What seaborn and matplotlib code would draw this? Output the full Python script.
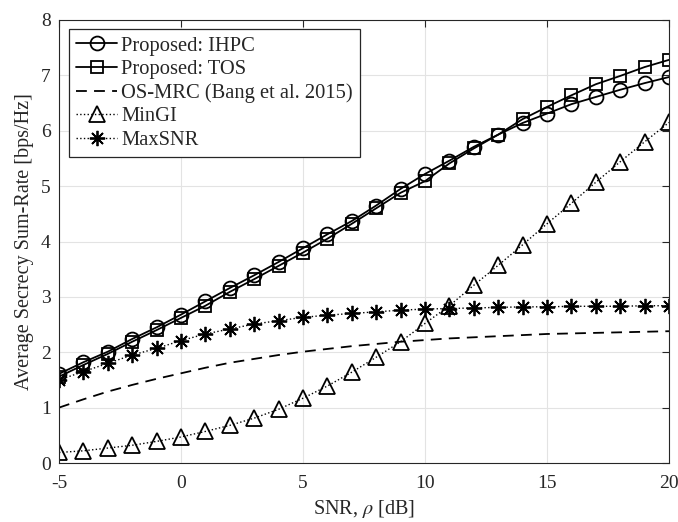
import numpy as np
import pandas as pd
import matplotlib
matplotlib.use("Agg")
import matplotlib.pyplot as plt
import seaborn as sns

snr = list(range(-5, 21))

ihpc = [1.61, 1.82, 2.01, 2.24, 2.45, 2.68, 2.92, 3.16, 3.39, 3.63, 3.88, 4.13, 4.37, 4.65, 4.95, 5.22,
        5.46, 5.71, 5.93, 6.14, 6.31, 6.48, 6.61, 6.74, 6.86, 6.97]
tos = [1.56, 1.77, 1.97, 2.19, 2.40, 2.62, 2.84, 3.09, 3.32, 3.56, 3.80, 4.05, 4.32, 4.60, 4.88, 5.09,
       5.41, 5.68, 5.93, 6.21, 6.43, 6.64, 6.84, 6.99, 7.15, 7.28]
osmrc = [1.00, 1.15, 1.29, 1.41, 1.52, 1.62, 1.72, 1.81, 1.88, 1.95, 2.01, 2.06, 2.11, 2.15, 2.19, 2.22,
         2.25, 2.27, 2.29, 2.31, 2.33, 2.34, 2.35, 2.36, 2.37, 2.38]
mingi = [0.19, 0.22, 0.27, 0.32, 0.39, 0.47, 0.57, 0.68, 0.81, 0.97, 1.17, 1.39, 1.64, 1.91, 2.19, 2.52,
         2.84, 3.21, 3.57, 3.94, 4.32, 4.69, 5.07, 5.44, 5.80, 6.15]
maxsnr = [1.50, 1.65, 1.80, 1.95, 2.07, 2.21, 2.33, 2.42, 2.51, 2.57, 2.63, 2.67, 2.70, 2.73, 2.76, 2.78,
          2.79, 2.80, 2.81, 2.82, 2.82, 2.83, 2.83, 2.83, 2.84, 2.84]

labels = ["Proposed: IHPC", "Proposed: TOS", "OS-MRC (Bang et al. 2015)", "MinGI", "MaxSNR"]
xticks = [-5, 0, 5, 10, 15, 20]
yticks = [0, 1, 2, 3, 4, 5, 6, 7, 8]

sns.set_style("white")
plt.rcParams["font.family"] = ["Liberation Serif", "DejaVu Serif"]
plt.rcParams["mathtext.fontset"] = "stix"

fig = plt.figure(figsize=(6.78, 5.22), dpi=100)
ax = fig.add_axes([59 / 678, (522 - 463) / 522, 610 / 678, 443 / 522])

df = pd.DataFrame({"snr": snr, "ihpc": ihpc, "tos": tos, "osmrc": osmrc, "mingi": mingi, "maxsnr": maxsnr})

common = dict(color="k", markeredgecolor="k", markerfacecolor="none", markeredgewidth=1.3)
sns.lineplot(data=df, x="snr", y="ihpc", ax=ax, marker="o", markersize=10, lw=1.3, label=labels[0], **common)
sns.lineplot(data=df, x="snr", y="tos", ax=ax, marker="s", markersize=9, lw=1.3, label=labels[1], **common)
sns.lineplot(data=df, x="snr", y="osmrc", ax=ax, lw=1.3, label=labels[2], color="k", dashes=False,
             linestyle=(0, (6, 4)))
sns.lineplot(data=df, x="snr", y="mingi", ax=ax, marker="^", markersize=11, lw=1.0, linestyle=":",
             label=labels[3], **common)
sns.lineplot(data=df, x="snr", y="maxsnr", ax=ax, marker=(8, 2, 0), markersize=11, lw=1.0, linestyle=":",
             label=labels[4], **common)

ax.set_xlim(-5, 20)
ax.set_ylim(0, 8)
ax.set_xticks(xticks)
ax.set_xticklabels([str(t) for t in xticks])
ax.set_yticks(yticks)
ax.grid(True, color="#e3e3e3", lw=0.8)
ax.set_axisbelow(True)
for s in ax.spines.values():
    s.set_visible(True)
    s.set_color("#262626")
    s.set_linewidth(0.8)
ax.tick_params(direction="in", length=5, width=0.8, top=True, right=True, labelsize=14,
               colors="#262626")
ax.tick_params(axis="x", pad=9)
ax.tick_params(axis="y", pad=6)
ax.set_xlabel(r"SNR, $\rho$ [dB]", fontsize=14.5, color="#262626", labelpad=4)
ax.set_ylabel("Average Secrecy Sum-Rate [bps/Hz]", fontsize=14.5, color="#262626", labelpad=5)

leg = ax.legend(loc="upper left", bbox_to_anchor=(10 / 610, 1 - 9 / 443), fontsize=14.8,
                frameon=True, fancybox=False, edgecolor="#262626", framealpha=1,
                handlelength=2.0, handletextpad=0.2, labelspacing=0.2, borderpad=0.35,
                borderaxespad=0)
leg.get_frame().set_linewidth(0.9)

fig.savefig("out.png", dpi=100)
